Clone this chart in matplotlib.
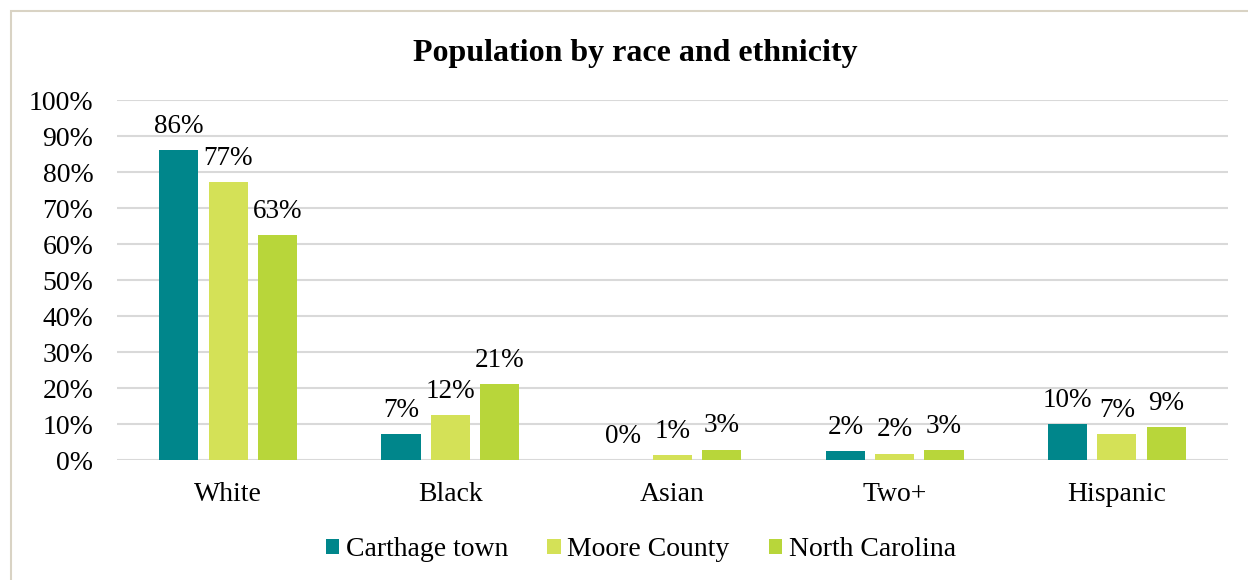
import matplotlib
matplotlib.use("Agg")
import matplotlib.pyplot as plt
from matplotlib.patches import Rectangle
import numpy as np

categories = ["White", "Black", "Asian", "Two+", "Hispanic"]
series_names = ["Carthage town", "Moore County", "North Carolina"]
carthage = [0.862, 0.072, 0.0, 0.024, 0.099]
moore = [0.772, 0.124, 0.013, 0.018, 0.071]
nc = [0.626, 0.212, 0.029, 0.028, 0.092]
colors = ["#00868B", "#D4E157", "#B8D63A"]
yticks = [0, 0.1, 0.2, 0.3, 0.4, 0.5, 0.6, 0.7, 0.8, 0.9, 1.0]

plt.rcParams['font.family'] = ['Liberation Serif', 'DejaVu Serif']

fig = plt.figure(figsize=(12.48, 5.8), dpi=100)
W, H = 1248, 580
ax = fig.add_axes([117 / W, 1 - 460 / H, (1228 - 117) / W, 360 / H])

x = np.arange(len(categories))
bw = 0.176
step = 0.222
for i, (vals, name, c) in enumerate(zip([carthage, moore, nc], series_names, colors)):
    pos = x + (i - 1) * step
    ax.bar(pos, vals, width=bw, color=c, label=name, zorder=3)
    for p, v in zip(pos, vals):
        ax.annotate(f"{round(v * 100):.0f}%", (p, v), xytext=(0, 8), textcoords="offset points",
                    ha="center", va="bottom", fontsize=19.5, color="black")

ax.set_ylim(0, 1.0)
ax.set_xlim(-0.5, len(categories) - 0.5)
ax.set_yticks(yticks)
ax.set_yticklabels([f"{int(round(t * 100))}%" for t in yticks], fontsize=20)
ax.set_xticks(x)
ax.set_xticklabels(categories, fontsize=20)
ax.tick_params(axis="both", length=0)
ax.tick_params(axis="y", pad=17)
ax.tick_params(axis="x", pad=16)
ax.grid(axis="y", color="#D9D9D9", linewidth=1.5, zorder=0)
for s in ax.spines.values():
    s.set_visible(False)
ax.set_axisbelow(True)

fig.text(635 / W, 1 - 53 / H, "Population by race and ethnicity", ha="center", va="center",
         fontsize=23, fontweight="bold")

leg = fig.legend(loc="center", bbox_to_anchor=(641 / W, 1 - 550 / H), ncol=3, frameon=False,
                 fontsize=20, handlelength=0.47, handleheight=0.47, handletextpad=0.25,
                 columnspacing=1.4)

fig.patches.append(Rectangle((11 / W, -0.2), 1.5, 1.2 - 11 / H, transform=fig.transFigure,
                             fill=False, edgecolor="#D9D3C4", linewidth=1.5))

fig.savefig("out.png", dpi=100)
